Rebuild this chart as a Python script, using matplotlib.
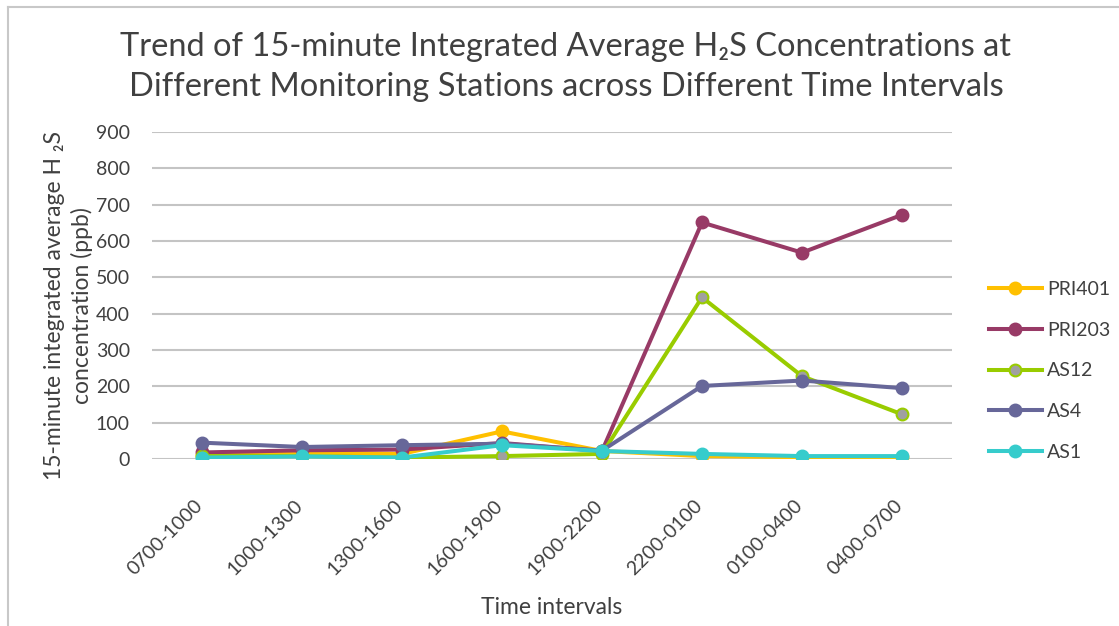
import matplotlib
matplotlib.use("Agg")
import matplotlib.pyplot as plt
from matplotlib.lines import Line2D
from matplotlib.transforms import ScaledTranslation

plt.rcParams['font.family'] = ['Lato', 'DejaVu Sans']

intervals = ['0700-1000', '1000-1300', '1300-1600', '1600-1900',
             '1900-2200', '2200-0100', '0100-0400', '0400-0700']

pri401 = [12, 18, 14, 76, 22, 8, 5, 5]
pri203 = [18, 24, 26, 44, 22, 651, 568, 672]
as12 = [8, 8, 4, 8, 14, 445, 228, 123]
as4 = [45, 33, 38, 42, 23, 201, 216, 195]
as1 = [4, 7, 4, 38, 22, 14, 8, 8]

series = [
    ('PRI401', pri401, '#FFC000', '#FFC000'),
    ('PRI203', pri203, '#983A66', '#983A66'),
    ('AS12', as12, '#99CC00', '#A0A0A0'),
    ('AS4', as4, '#676799', '#676799'),
    ('AS1', as1, '#36CCCC', '#36CCCC'),
]

fig = plt.figure(figsize=(11.19, 6.26), dpi=100)
ax = fig.add_axes([152/1119, 1 - 459/626, 800/1119, 327/626])

x = list(range(len(intervals)))
for name, vals, col, face in series:
    ax.plot(x, vals, color=col, lw=2.9, marker='o', markersize=8.5,
            markerfacecolor=face, markeredgecolor=col, markeredgewidth=1.5,
            label=name, solid_joinstyle='round')

ax.set_xlim(-0.5, 7.5)
ax.set_ylim(0, 900)
ax.set_yticks(range(0, 901, 100))
ax.yaxis.grid(True, color='#C4C4C4', lw=1.5)
ax.set_axisbelow(True)
for s in ax.spines.values():
    s.set_visible(False)
ax.tick_params(axis='both', length=0, labelsize=14, colors='#404040')
ax.tick_params(axis='y', pad=16)
ax.set_xticks(x)
ax.set_xticklabels(intervals, rotation=45, ha='right', va='top',
                   rotation_mode='anchor', fontsize=14, color='#404040')
ax.tick_params(axis='x', pad=27)
shift = ScaledTranslation(-8/100, 0, fig.dpi_scale_trans)
for lab in ax.get_xticklabels():
    lab.set_transform(lab.get_transform() + shift)

# axis titles
fig.text(552/1119, 1 - 608/626, 'Time intervals', ha='center', va='center',
         fontsize=16.5, color='#404040')
ax.set_ylabel('15-minute integrated average H \u2082S\nconcentration (ppb)',
              fontsize=16.5, color='#404040', linespacing=1.3)
ax.yaxis.set_label_coords(-0.074, (459 - 306) / 327)

fig.text(566/1119, 1 - 67/626,
         'Trend of 15-minute Integrated Average H\u2082S Concentrations at\n'
         'Different Monitoring Stations across Different Time Intervals',
         ha='center', va='center', fontsize=23.5, color='#404040', linespacing=1.38)

ax.legend(loc='center left', bbox_to_anchor=(989/1119, 1 - 371/626),
          bbox_transform=fig.transFigure, frameon=False, fontsize=14,
          handlelength=2.7, labelspacing=1.22, handletextpad=0.3,
          labelcolor='#404040', borderpad=0, borderaxespad=0)

# chart border
fig.add_artist(Line2D([8/1119, 1], [1 - 7/626, 1 - 7/626], color='#C8C8C8', lw=1.5))
fig.add_artist(Line2D([8/1119, 8/1119], [0, 1 - 7/626], color='#C8C8C8', lw=1.5))

fig.savefig('out.png', dpi=100)
